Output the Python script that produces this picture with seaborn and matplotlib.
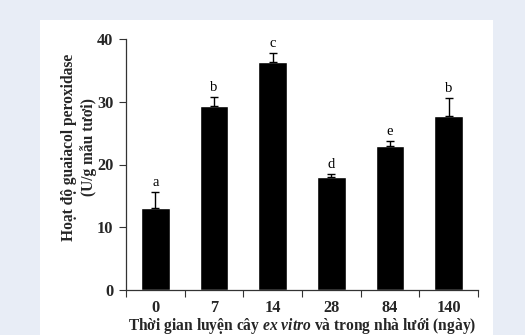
import matplotlib
matplotlib.use("Agg")
import matplotlib.pyplot as plt
from matplotlib.patches import Rectangle
import numpy as np
import pandas as pd
import seaborn as sns

# Guaiacol peroxidase activity over acclimatization time
days = ["0", "7", "14", "28", "84", "140"]
activity = [13.0, 29.3, 36.3, 18.0, 22.9, 27.7]
err_up = [2.6, 1.5, 1.5, 0.5, 0.8, 2.9]
groups = ["a", "b", "c", "d", "e", "b"]

df = pd.DataFrame({"day": days, "activity": activity})

sns.set_style("ticks")
plt.rcParams["font.family"] = ["Liberation Serif", "DejaVu Serif"]
plt.rcParams["mathtext.fontset"] = "custom"
plt.rcParams["mathtext.it"] = "Liberation Serif:italic:bold"
plt.rcParams["mathtext.rm"] = "Liberation Serif:bold"

fig = plt.figure(figsize=(5.25, 3.35), dpi=100)
fig.patch.set_facecolor("#E8EDF6")
fig.add_artist(Rectangle((40 / 525, 0), (492.5 - 40) / 525, 1 - 20 / 335,
                         transform=fig.transFigure, facecolor="white",
                         edgecolor="none", zorder=0))

ax = fig.add_axes([126 / 525, 1 - 290 / 335, (478 - 126) / 525, (290 - 39) / 335])
ax.set_facecolor("none")

sns.barplot(data=df, x="day", y="activity", order=days, color="black",
            width=0.49, errorbar=None, ax=ax, saturation=1)

xpos = np.arange(len(days))
ax.errorbar(xpos, activity, yerr=[np.zeros(len(days)), err_up], fmt="none",
            ecolor="black", elinewidth=1.0, capsize=3, capthick=1.0)

for x, v, e, g in zip(xpos, activity, err_up, groups):
    ax.text(x, v + e + 0.5, g, ha="center", va="bottom", fontsize=10.5,
            color="black")

ax.set_xlim(-0.5, len(days) - 0.5)
ax.set_ylim(0, 40)
ax.set_yticks([0, 10, 20, 30, 40])

# category boundaries carry the tick marks on the x axis
ax.set_xticks(xpos)
ax.set_xticks(np.arange(-0.5, len(days), 1.0), minor=True)
ax.tick_params(axis="x", which="major", length=0, pad=7)
ax.tick_params(axis="x", which="minor", length=5, direction="out",
               width=0.8, color="#333333")
ax.tick_params(axis="y", length=5, direction="out", width=0.8,
               color="#333333", pad=4)

for lab in ax.get_xticklabels() + ax.get_yticklabels():
    lab.set_fontweight("bold")
    lab.set_fontsize(11.8)

sns.despine(ax=ax)
for s in ("left", "bottom"):
    ax.spines[s].set_linewidth(0.9)
    ax.spines[s].set_color("#333333")

ax.set_ylabel("Hoạt độ guaiacol peroxidase\n(U/g mẫu tươi)",
              fontsize=11.2, fontweight="bold", linespacing=1.25)
ax.yaxis.set_label_coords(-0.083, 0.57)
ax.set_xlabel(r"Thời gian luyện cây $\it{ex\ vitro}$ và trong nhà lưới (ngày)",
              fontsize=11.2, fontweight="bold", labelpad=0)

fig.savefig("out.png", dpi=100, facecolor=fig.get_facecolor())
